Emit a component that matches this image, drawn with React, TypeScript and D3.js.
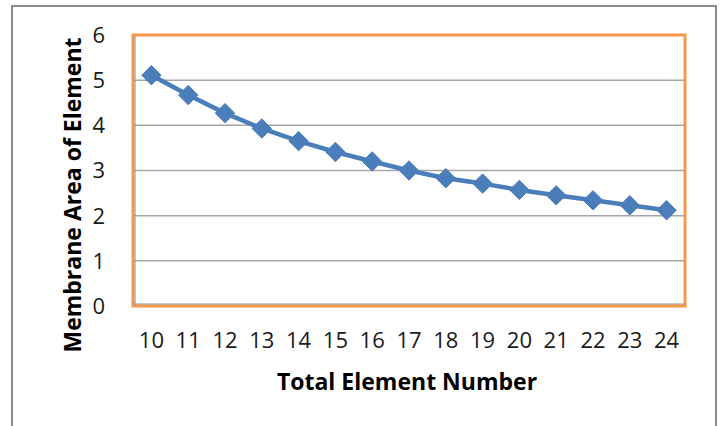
import React from "react";
import * as d3 from "d3";

const categories: number[] = [10, 11, 12, 13, 14, 15, 16, 17, 18, 19, 20, 21, 22, 23, 24];
const areaValues: number[] = [5.11, 4.67, 4.27, 3.93, 3.65, 3.41, 3.2, 3.0, 2.83, 2.71, 2.57, 2.45, 2.34, 2.23, 2.12];
const yTicks: number[] = [0, 1, 2, 3, 4, 5, 6];
const xTitle = "Total Element Number";
const yTitle = "Membrane Area of Element";

const W = 720;
const H = 426;
const plot = { left: 133, right: 685, top: 35, bottom: 306 };
const FONT = "'Open Sans', 'Liberation Sans', sans-serif";

export default function App() {
  const x = d3
    .scaleBand<number>()
    .domain(categories)
    .range([plot.left, plot.right]);
  const y = d3.scaleLinear().domain([0, 6]).range([plot.bottom, plot.top]);
  const cx = (c: number) => (x(c) as number) + x.bandwidth() / 2;

  const line = d3
    .line<number>()
    .x((_, i) => cx(categories[i]))
    .y((d) => y(d));

  const diamond = d3.symbol().type(d3.symbolDiamond2).size(240)();

  return (
    <div style={{ position: "absolute", left: 0, top: 0, margin: 0 }}>
      <svg width={W} height={H} style={{ display: "block", background: "#fff" }}>
        <rect x={0} y={0} width={W} height={H} fill="#fff" />
        <path
          d={`M12,${H + 2} L12,6 L716,6 L716,${H + 2}`}
          fill="none"
          stroke="#8c8c8c"
          strokeWidth={2}
        />
        {yTicks.map((t) => (
          <line
            key={`g${t}`}
            x1={plot.left}
            x2={plot.right}
            y1={y(t)}
            y2={y(t)}
            stroke="#a6a6a6"
            strokeWidth={1.5}
          />
        ))}
        <rect
          x={plot.left}
          y={plot.top}
          width={plot.right - plot.left}
          height={plot.bottom - plot.top}
          fill="none"
          stroke="#f79646"
          strokeWidth={3}
        />
        <line x1={plot.left + 2} x2={plot.left + 2} y1={plot.top + 1} y2={plot.bottom - 1} stroke="#909090" strokeWidth={1} />
        <line x1={plot.left + 1} x2={plot.right - 1} y1={plot.bottom - 2} y2={plot.bottom - 2} stroke="#909090" strokeWidth={1} />
        <path d={line(areaValues) || ""} fill="none" stroke="#4a7ebb" strokeWidth={4.5} strokeLinejoin="round" />
        {areaValues.map((v, i) => (
          <path
            key={`m${i}`}
            d={diamond || ""}
            transform={`translate(${cx(categories[i])},${y(v)})`}
            fill="#4a7ebb"
            stroke="#4a7ebb"
            strokeWidth={1}
          />
        ))}
        {yTicks.map((t) => (
          <text
            key={`yt${t}`}
            x={105}
            y={y(t)}
            dy="0.36em"
            textAnchor="end"
            fontFamily={FONT}
            fontSize={22}
            fill="#1a1a1a"
          >
            {t}
          </text>
        ))}
        {categories.map((c) => (
          <text
            key={`xt${c}`}
            x={cx(c)}
            y={348}
            textAnchor="middle"
            fontFamily={FONT}
            fontSize={22}
            fill="#1a1a1a"
          >
            {c}
          </text>
        ))}
        <text
          x={407}
          y={390}
          textAnchor="middle"
          fontFamily={FONT}
          fontWeight="bold"
          fontSize={23}
          fill="#000"
        >
          {xTitle}
        </text>
        <text
          transform={`translate(81,${(43 + 347) / 2}) rotate(-90)`}
          textAnchor="middle"
          fontFamily={FONT}
          fontWeight="bold"
          fontSize={23}
          fill="#000"
        >
          {yTitle}
        </text>
      </svg>
    </div>
  );
}
